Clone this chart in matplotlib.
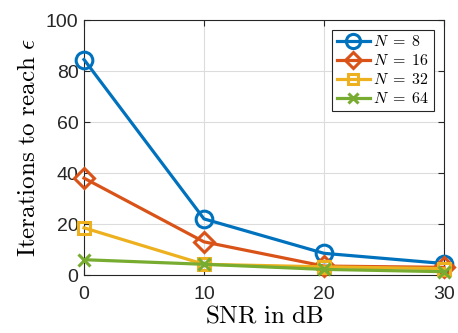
import matplotlib
matplotlib.use('Agg')
import matplotlib.pyplot as plt

# DATA
snr_db = [0, 10, 20, 30]
iters_n8 = [84.5, 22, 8.5, 4.5]
iters_n16 = [38, 13, 3.5, 3]
iters_n32 = [18.5, 4.2, 3.2, 2.5]
iters_n64 = [6, 4.2, 2.2, 1.3]
labels = [r'$N\;=\;8$', r'$N\;=\;16$', r'$N\;=\;32$', r'$N\;=\;64$']

# MATLAB DEFAULT COLOURS
colors = ['#0072BD', '#D95319', '#EDB120', '#77AC30']
markers = ['o', 'D', 's', 'x']
sizes = [12, 10, 9, 9]

plt.rcParams['mathtext.fontset'] = 'cm'
plt.rcParams['font.family'] = ['Liberation Sans', 'DejaVu Sans']

fig = plt.figure(figsize=(4.58, 3.33), dpi=100)
ax = fig.add_axes([84 / 458, 1 - 275 / 333, 360 / 458, 255 / 333])

series = [iters_n8, iters_n16, iters_n32, iters_n64]
for vals, c, m, ms, lab in zip(series, colors, markers, sizes, labels):
    ax.plot(snr_db, vals, color=c, marker=m, markersize=ms, markerfacecolor='none',
            markeredgewidth=2.2, linewidth=2.3, label=lab, clip_on=False, zorder=3)

ax.set_xlim(0, 30)
ax.set_ylim(0, 100)
ax.set_xticks([0, 10, 20, 30])
ax.set_yticks([0, 20, 40, 60, 80, 100])
ax.grid(True, color='#dcdcdc', linewidth=0.8)
ax.set_axisbelow(True)
ax.tick_params(labelsize=14, colors='#262626', direction='in', length=4,
               top=True, right=True)
ax.tick_params(axis='x', pad=8)
ax.tick_params(axis='y', pad=4)
for sp in ax.spines.values():
    sp.set_color('#262626')
    sp.set_linewidth(0.8)

ax.set_xlabel(r'$\mathrm{SNR\ in\ dB}$', fontsize=18, labelpad=0)
ax.set_ylabel(r'$\mathrm{Iterations\ to\ reach}\ \epsilon$', fontsize=18, labelpad=4)

leg = ax.legend(loc='upper right', fontsize=11.5, fancybox=False, framealpha=1,
                edgecolor='#262626', handlelength=2.1, borderpad=0.3,
                labelspacing=0.25, handletextpad=0.2, markerscale=0.85,
                borderaxespad=0.6)
leg.get_frame().set_linewidth(0.8)

fig.savefig('out.png', dpi=100)
